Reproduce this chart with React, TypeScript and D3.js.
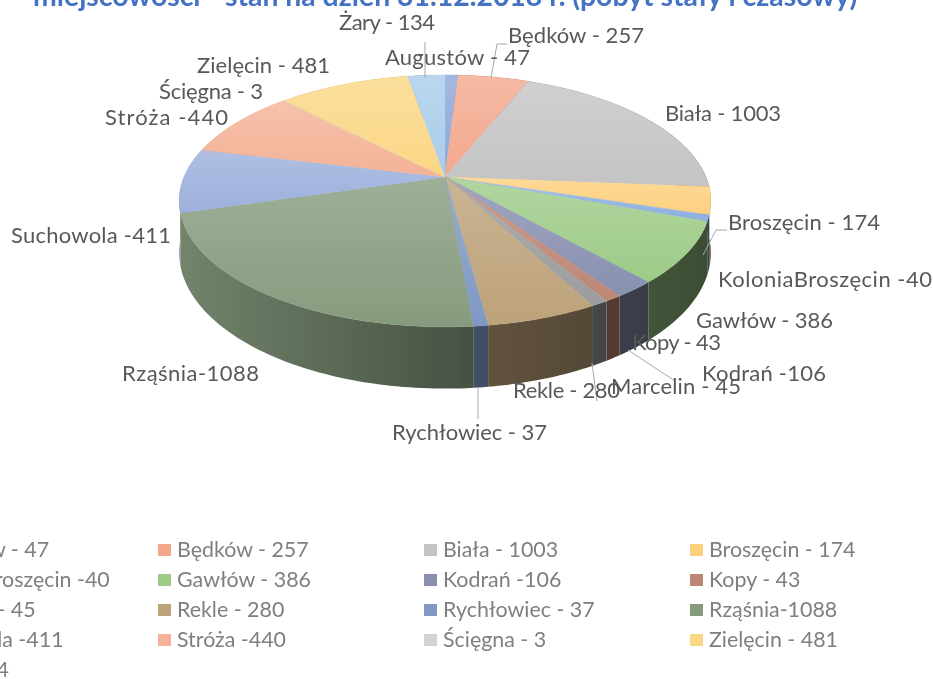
import React from "react";
import * as d3 from "d3";

const width = 933;
const height = 679;

const titleText = "miejscowości - stan na dzień 31.12.2018 r. (pobyt stały i czasowy)";

// kolejnosc jak w legendzie, start na godzinie 12
const names = ["Augustów - 47", "Będków - 257", "Biała - 1003", "Broszęcin - 174", "KoloniaBroszęcin -40", "Gawłów - 386", "Kodrań -106", "Kopy - 43", "Marcelin - 45", "Rekle - 280", "Rychłowiec - 37", "Rząśnia-1088", "Suchowola -411", "Stróża -440", "Ścięgna - 3", "Zielęcin - 481", "Żary - 134"];
const values = [47, 257, 1003, 174, 40, 386, 106, 43, 45, 280, 37, 1088, 411, 440, 3, 481, 134];
const colors = ["#8fa6da", "#f3a88e", "#c4c4c4", "#fdd07e", "#8db0e0", "#9ecb88", "#8890b0", "#bd8675", "#9c9c9c", "#bda27a", "#7f99c4", "#869b7e", "#9cb0dc", "#f4b296", "#d2d2d2", "#fbd785", "#a9cdea"];

// etykiety ustawione recznie, jak w oryginale: [x, y, szerokosc]
const labelSpots = [[385, 57, 145], [508, 35, 136], [665, 113, 116], [728, 222, 152], [718, 279, 214], [696, 320, 137], [702, 373, 124], [632, 342, 89], [611, 386, 130], [513, 390, 107], [392, 432, 155], [122, 373, 137], [11, 235, 160], [105, 117, 123], [159, 91, 104], [197, 65, 133], [339, 22, 96]];
const leaders = [
  [[425, 42], [425, 78]],
  [[491, 78], [497, 44], [507, 44]],
  [[703, 255], [716, 230], [727, 230]],
  [[628, 350], [675, 381]],
  [[592, 363], [597, 401]],
  [[478, 387], [478, 419]],
];

// geometria "3D" - prosty rzut perspektywiczny dysku
const cx = 445;
const cy = 177;
const Rx = 261;
const Ry = 121.4;
const persp = 0.19;
const depth = 50;

const project = (angle: number, lower = false): [number, number] => {
  const u = Math.sin(angle);
  const v = -Math.cos(angle);
  const w = 1 - persp * v;
  return [cx + (Rx * u) / w, cy + (Ry * v + (lower ? depth : 0)) / w];
};

const sideX = [180, 475, 710];
const sideK = [0.85, 0.52, 0.38];
const legendX = d3.scaleLinear().domain([0, 3]).range([-108, 690]);
const legendY = d3.scaleLinear().domain([0, 4]).range([550, 670]);

const line = d3.line();
const pie = d3.pie<number>().sort(null).value((d) => d);
const arcs = pie(values).map((arc, i) => ({ ...arc, i }));
// boki malowane od tylu do przodu
const backToFront = [...arcs].sort(
  (a, b) => -Math.cos((a.startAngle + a.endAngle) / 2) + Math.cos((b.startAngle + b.endAngle) / 2)
);

const rim = (a0: number, a1: number) => {
  const n = Math.max(2, Math.ceil((a1 - a0) / 0.02));
  return d3.range(n + 1).map((i) => a0 + ((a1 - a0) * i) / n);
};

const darken = (color: string, k: number) => {
  const c = d3.rgb(color);
  return d3.rgb(c.r * k, c.g * k, c.b * k).formatHex();
};

const App = () => {
  const font = "Lato, 'Open Sans', sans-serif";
  return (
    <svg width={width} height={height} style={{ position: "absolute", left: 0, top: 0 }} fontFamily={font}>
      <defs>
        <filter id="soft" x="-5%" y="-5%" width="110%" height="110%">
          <feGaussianBlur stdDeviation="0.6" />
        </filter>
        <linearGradient id="sheen" x1="0" y1="0" x2="0" y2="1">
          <stop offset="0" stopColor="#fff" stopOpacity={0.2} />
          <stop offset="1" stopColor="#fff" stopOpacity={0} />
        </linearGradient>
        {colors.map((c, i) => (
          <linearGradient key={i} id={`side${i}`} gradientUnits="userSpaceOnUse" x1={sideX[0]} x2={sideX[2]} y1={0} y2={0}>
            {sideX.map((x, j) => (
              <stop key={j} offset={(x - sideX[0]) / (sideX[2] - sideX[0])} stopColor={darken(c, sideK[j])} />
            ))}
          </linearGradient>
        ))}
      </defs>
      <rect width={width} height={height} fill="#fff" />
      <g filter="url(#soft)">
        <text x={33} y={6} fontSize={28.4} fontWeight={700} fill="#4472c4">{titleText}</text>

        {/* boki */}
        {backToFront.map((arc) => {
          const steps = rim(arc.startAngle, arc.endAngle);
          const outline = [...steps.map((a) => project(a)), ...[...steps].reverse().map((a) => project(a, true))];
          return <path key={arc.i} d={line(outline) + "Z"} fill={`url(#side${arc.i})`} />;
        })}

        {/* gorna powierzchnia */}
        {arcs.map((arc) => {
          const d = line([[cx, cy], ...rim(arc.startAngle, arc.endAngle).map((a) => project(a))]) + "Z";
          return (
            <g key={arc.i}>
              <path d={d} fill={colors[arc.i]} stroke={colors[arc.i]} strokeWidth={0.4} />
              <path d={d} fill="url(#sheen)" />
            </g>
          );
        })}

        {leaders.map((pts, i) => (
          <path key={i} d={line(pts as [number, number][]) ?? ""} fill="none" stroke="#a6a6a6" strokeWidth={1} />
        ))}

        {names.map((name, i) => (
          <text key={name} x={labelSpots[i][0]} y={labelSpots[i][1]} dy="0.35em" fontSize={22} fill="#595959" textLength={labelSpots[i][2]}>{name}</text>
        ))}

        {names.map((name, i) => {
          const x = legendX(i % 4);
          const y = legendY(Math.floor(i / 4));
          return (
            <g key={name}>
              <rect x={x} y={y - 6} width={13} height={12} fill={colors[i]} />
              <text x={x + 19} y={y} dy="0.35em" fontSize={21.4} fill="#7f7f7f">{name}</text>
            </g>
          );
        })}
      </g>
    </svg>
  );
};

export default App;
